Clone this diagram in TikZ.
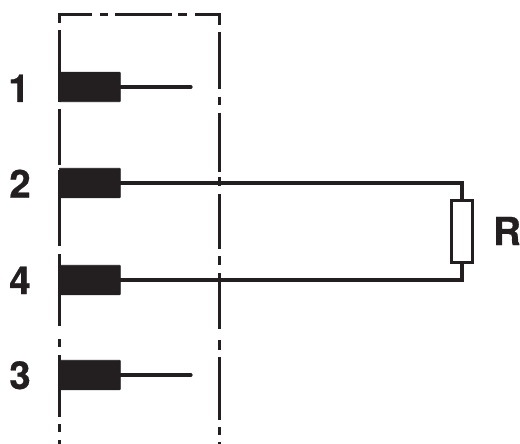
\documentclass[tikz,border=0pt]{standalone}
\usepackage{fontspec}
\setmainfont{TeX Gyre Heros}
\newfontfamily\lblfont[BoldFeatures={FakeBold=0.6}]{TeX Gyre Heros}
\definecolor{ink}{HTML}{231F20}
\tikzset{
  pin/.style={draw=ink,fill=ink,line width=0.6pt,rounded corners=0.6pt,minimum width=61pt,minimum height=29.5pt,inner sep=0pt,outer sep=0pt,anchor=west},
  wire/.style={draw=ink,line width=3.2pt},
  frameline/.style={draw=ink,line width=3pt},
  res/.style={draw=ink,fill=white,line width=3pt,minimum width=21pt,minimum height=62pt,inner sep=0pt,outer sep=0pt},
  lbl/.style={font=\lblfont\bfseries\fontsize{38.5}{38.5}\selectfont,text=ink,inner sep=0pt,anchor=base}
}
\begin{document}
\begin{tikzpicture}[x=1pt,y=-1pt]
\useasboundingbox (0,0) rectangle (520,444);
% frame
\foreach \a/\b in {30/102,109/165,170/246,254/262,262/326,339/347,355/417,424/432,440/444}
  \draw[frameline] (59.5,\a) -- (59.5,\b);
\foreach \a/\b in {32/89,97/105,113/172,177/186,194/249,256/265,273/329,340/350,357/420,427/435,442/444}
  \draw[frameline] (219.5,\a) -- (219.5,\b);
\foreach \a/\b in {100/108,115/172,178/187}
  \draw[frameline] (\a,15) -- (\b,15);
\draw[frameline] (59.5,23) -- (59.5,15) -- (92,15);
\draw[frameline] (195,15) -- (219.5,15) -- (219.5,25);
% pins
\node[pin] (p1) at (59.3,87) {};
\node[pin] (p2) at (59.3,183) {};
\node[pin] (p4) at (59.3,280) {};
\node[pin] (p3) at (59.3,375) {};
\coordinate (e1) at (191,87);
\coordinate (e3) at (191,375);
\node[res] (r) at (462,231.5) {};
\draw[wire,line cap=round] (p1.east) -- (e1);
\draw[wire,line cap=round] (p3.east) -- (e3);
\draw[wire] (p2.east) -| (r.north);
\draw[wire] (p4.east) -| (r.south);
% labels
\node[lbl] (l1) at (19,102) {1};
\node[lbl] (l2) at (20,197.5) {2};
\node[lbl] (l4) at (20,294) {4};
\node[lbl] (l3) at (20,389) {3};
\node[lbl] (lr) at (507,245) {R};
\end{tikzpicture}
\end{document}
